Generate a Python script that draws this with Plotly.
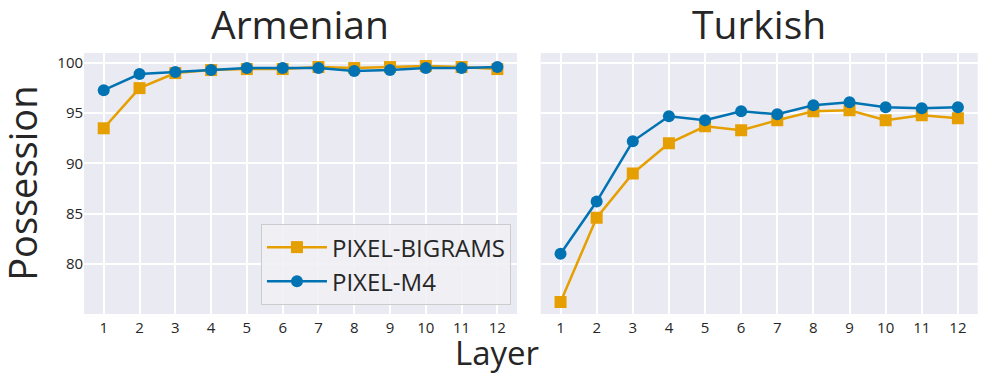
import plotly.graph_objects as go
from plotly.subplots import make_subplots

layers = list(range(1, 13))
tick_labels = [str(i) for i in layers]
y_ticks = [80, 85, 90, 95, 100]

armenian_bigrams = [93.5, 97.5, 99.0, 99.3, 99.4, 99.4, 99.6, 99.5, 99.6, 99.7, 99.6, 99.4]
armenian_m4 = [97.3, 98.9, 99.1, 99.3, 99.5, 99.5, 99.5, 99.2, 99.3, 99.5, 99.5, 99.6]
turkish_bigrams = [76.2, 84.6, 89.0, 92.0, 93.7, 93.3, 94.3, 95.2, 95.3, 94.3, 94.8, 94.5]
turkish_m4 = [81.0, 86.2, 92.2, 94.7, 94.3, 95.2, 94.9, 95.8, 96.1, 95.6, 95.5, 95.6]

ORANGE = "#E69F00"
BLUE = "#0173B2"
FONT = "Open Sans"

fig = make_subplots(rows=1, cols=2, shared_yaxes=True)

for col, (big, m4) in enumerate([(armenian_bigrams, armenian_m4), (turkish_bigrams, turkish_m4)], start=1):
    fig.add_trace(go.Scatter(x=layers, y=big, mode="lines+markers", name="PIXEL-BIGRAMS",
                             line=dict(color=ORANGE, width=2.5),
                             marker=dict(symbol="square", size=12, color=ORANGE),
                             showlegend=(col == 1), legendrank=1), row=1, col=col)
    fig.add_trace(go.Scatter(x=layers, y=m4, mode="lines+markers", name="PIXEL-M4",
                             line=dict(color=BLUE, width=2.5),
                             marker=dict(symbol="circle", size=12, color=BLUE),
                             showlegend=(col == 1), legendrank=2), row=1, col=col)

axis_common = dict(showgrid=True, gridcolor="white", gridwidth=1.5, zeroline=False,
                   showline=False, ticks="", tickfont=dict(family=FONT, size=15, color="#262626"))

fig.update_xaxes(**axis_common, range=[0.45, 12.55], tickmode="array", tickvals=layers,
                 ticktext=tick_labels, ticklabelstandoff=3)
fig.update_yaxes(**axis_common, range=[75.0, 101.0], tickmode="array", tickvals=y_ticks,
                 ticktext=[str(v) for v in y_ticks])
fig.update_yaxes(showticklabels=False, row=1, col=2)

fig.update_layout(
    width=997, height=374,
    margin=dict(l=0, r=0, t=0, b=0),
    paper_bgcolor="white",
    plot_bgcolor="#EAEAF2",
    xaxis=dict(domain=[0.0843, 0.5186]),
    xaxis2=dict(domain=[0.5423, 0.9807]),
    yaxis=dict(domain=[0.1604, 0.8583]),
    yaxis2=dict(domain=[0.1604, 0.8583]),
    font=dict(family=FONT, color="#262626"),
    legend=dict(x=0.5125, y=0.401, xanchor="right", yanchor="top",
                bgcolor="rgba(240,240,245,0.85)", bordercolor="#CCCCCC", borderwidth=1,
                font=dict(family=FONT, size=24, color="#262626"),
                itemwidth=60, tracegroupgap=0),
    annotations=[
        dict(text="Armenian", x=0.3014, y=0.936, xref="paper", yref="paper",
             showarrow=False, font=dict(family=FONT, size=39, color="#262626"),
             xanchor="center", yanchor="middle"),
        dict(text="Turkish", x=0.7615, y=0.936, xref="paper", yref="paper",
             showarrow=False, font=dict(family=FONT, size=39, color="#262626"),
             xanchor="center", yanchor="middle"),
        dict(text="Layer", x=0.4985, y=0.058, xref="paper", yref="paper",
             showarrow=False, font=dict(family=FONT, size=33, color="#262626"),
             xanchor="center", yanchor="middle"),
        dict(text="Possession", x=0.022, y=0.511, xref="paper", yref="paper",
             showarrow=False, textangle=-90, font=dict(family=FONT, size=38, color="#262626"),
             xanchor="center", yanchor="middle"),
    ],
)

fig.write_html("out.html", config={"displayModeBar": False},
               post_script="document.body.style.margin='0px';")
